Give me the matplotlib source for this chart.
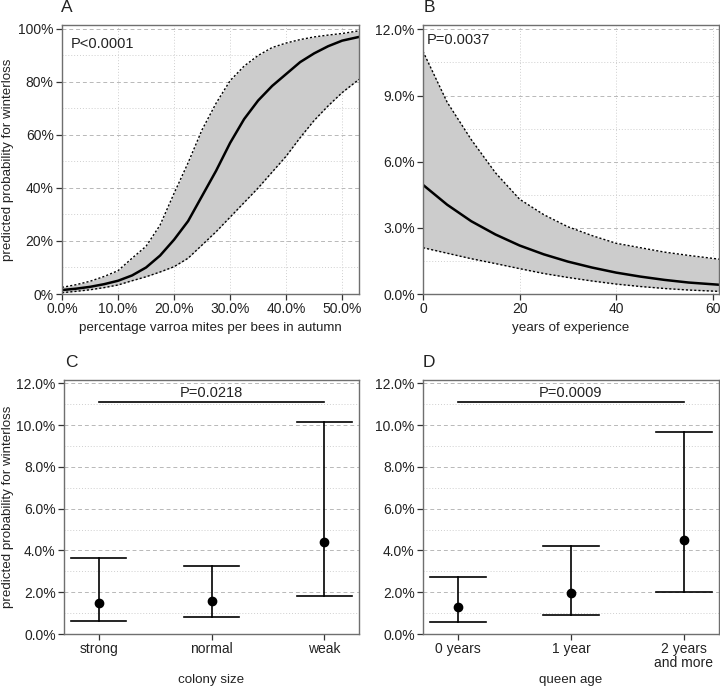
import matplotlib.pyplot as plt
from matplotlib.ticker import FuncFormatter, MultipleLocator

plt.rcParams["font.family"] = ["Liberation Sans", "DejaVu Sans"]
plt.rcParams["font.size"] = 10

# Panel A: varroa infestation (%) vs predicted probability (%)
varroa_x = [0, 2.5, 5, 7.5, 10, 12.5, 15, 17.5, 20, 22.5, 25, 27.5, 30, 32.5, 35, 37.5, 40, 42.5, 45, 47.5, 50, 53]
varroa_mean = [1.5, 2.0, 2.7, 3.7, 5.0, 7.0, 10.0, 14.5, 20.5, 27.5, 37.0, 46.5, 57.0, 66.0, 73.0, 78.5, 83.0, 87.5, 90.8, 93.5, 95.6, 97.0]
varroa_upper = [2.5, 3.5, 4.8, 6.6, 8.8, 13.5, 18.0, 26.0, 38.0, 49.5, 62.0, 72.0, 80.5, 86.0, 90.0, 93.0, 94.7, 96.0, 97.0, 97.7, 98.3, 99.3]
varroa_lower = [0.5, 1.0, 1.6, 2.4, 3.4, 5.0, 6.5, 8.3, 10.3, 13.5, 18.5, 23.5, 29.0, 34.5, 40.0, 46.0, 52.0, 59.0, 65.5, 71.0, 76.0, 81.0]

# Panel B: years of experience vs predicted probability (%)
exp_x = [0, 5, 10, 15, 20, 25, 30, 35, 40, 45, 50, 55, 61.3]
exp_mean = [4.95, 4.05, 3.3, 2.7, 2.2, 1.8, 1.47, 1.2, 0.97, 0.79, 0.64, 0.52, 0.42]
exp_upper = [11.0, 8.7, 7.0, 5.5, 4.3, 3.6, 3.05, 2.65, 2.3, 2.1, 1.9, 1.75, 1.58]
exp_lower = [2.1, 1.85, 1.6, 1.38, 1.15, 0.93, 0.75, 0.59, 0.45, 0.34, 0.25, 0.18, 0.12]

# Panel C: colony size
colony_labels = ["strong", "normal", "weak"]
colony_est = [1.5, 1.6, 4.4]
colony_lo = [0.62, 0.8, 1.84]
colony_hi = [3.65, 3.26, 10.17]

# Panel D: queen age
queen_labels = ["0 years", "1 year", "2 years\nand more"]
queen_est = [1.27, 1.95, 4.48]
queen_lo = [0.59, 0.9, 2.02]
queen_hi = [2.71, 4.21, 9.69]

W, H = 720, 688
fig = plt.figure(figsize=(W / 100, H / 100), dpi=100)
TXT = "#222222"


def add_ax(left, right, top, bottom):
    return fig.add_axes([left / W, 1 - bottom / H, (right - left) / W, (bottom - top) / H])


def style(ax, xgrid=True):
    for s in ax.spines.values():
        s.set_color("#6f6f6f")
        s.set_linewidth(1.0)
    ax.tick_params(axis="both", which="major", length=4, width=0.9, color="#333333",
                   labelcolor=TXT, labelsize=10, pad=2)
    ax.tick_params(axis="both", which="minor", length=0)
    ax.grid(True, axis="y", which="major", color="#b8b8b8", linestyle=(0, (4, 3)), linewidth=0.7)
    ax.grid(True, axis="y", which="minor", color="#cfcfcf", linestyle=(0, (1, 2)), linewidth=0.7)
    if xgrid:
        ax.grid(True, axis="x", which="major", color="#cfcfcf", linestyle=(0, (1, 2)), linewidth=0.7)
    ax.set_axisbelow(True)


band_color = "#cccccc"


def band_panel(ax, x, lo, hi, mean):
    ax.fill_between(x, lo, hi, color=band_color, linewidth=0)
    ax.plot(x, hi, color="black", linestyle=(0, (1.5, 1.5)), linewidth=1.0)
    ax.plot(x, lo, color="black", linestyle=(0, (1.5, 1.5)), linewidth=1.0)
    ax.plot(x, mean, color="black", linewidth=1.8)


# ---- A ----
axA = add_ax(62, 359, 25, 294)
band_panel(axA, varroa_x, varroa_lower, varroa_upper, varroa_mean)
axA.set_xlim(0, 53)
axA.set_ylim(0, 101.5)
axA.xaxis.set_major_locator(MultipleLocator(10))
axA.yaxis.set_major_locator(MultipleLocator(20))
axA.yaxis.set_minor_locator(MultipleLocator(10))
axA.xaxis.set_major_formatter(FuncFormatter(lambda v, p: f"{v:.1f}%"))
axA.yaxis.set_major_formatter(FuncFormatter(lambda v, p: f"{v:.0f}%"))
style(axA)
axA.set_xlabel("percentage varroa mites per bees in autumn", fontsize=9.6, color=TXT)
axA.xaxis.set_label_coords(0.5, -0.104)
axA.set_ylabel("predicted probability for winterloss", fontsize=9.6, color=TXT)
axA.yaxis.set_label_coords(-0.16, 0.5)
axA.text(0.03, 0.955, "P<0.0001", transform=axA.transAxes, ha="left", va="top", fontsize=10.5, color=TXT)

# ---- B ----
axB = add_ax(423, 719, 25, 294)
band_panel(axB, exp_x, exp_lower, exp_upper, exp_mean)
axB.set_xlim(0, 61.3)
axB.set_ylim(0, 12.2)
axB.xaxis.set_major_locator(MultipleLocator(20))
axB.yaxis.set_major_locator(MultipleLocator(3))
axB.yaxis.set_minor_locator(MultipleLocator(1.5))
axB.yaxis.set_major_formatter(FuncFormatter(lambda v, p: f"{v:.1f}%"))
style(axB)
axB.set_xlabel("years of experience", fontsize=9.6, color=TXT)
axB.xaxis.set_label_coords(0.5, -0.104)
axB.text(0.012, 0.97, "P=0.0037", transform=axB.transAxes, ha="left", va="top", fontsize=10.5, color=TXT)


def cat_panel(ax, labels, est, lo, hi, ptext, xlabel):
    pos = list(range(1, len(labels) + 1))
    for x, e, l, h in zip(pos, est, lo, hi):
        ax.plot([x, x], [l, h], color="black", linewidth=1.2)
        ax.plot([x - 0.245, x + 0.245], [l, l], color="black", linewidth=1.2)
        ax.plot([x - 0.245, x + 0.245], [h, h], color="black", linewidth=1.2)
    ax.plot(pos, est, "o", color="black", markersize=6)
    ax.plot([pos[0], pos[-1]], [11.1, 11.1], color="black", linewidth=1.2)
    ax.text(pos[1], 11.2, ptext, ha="center", va="bottom", fontsize=10.5, color=TXT)
    ax.set_xlim(0.69, 3.31)
    ax.set_ylim(0, 12.16)
    ax.set_xticks(pos)
    ax.set_xticklabels(labels, linespacing=0.95)
    ax.yaxis.set_major_locator(MultipleLocator(2))
    ax.yaxis.set_minor_locator(MultipleLocator(1))
    ax.yaxis.set_major_formatter(FuncFormatter(lambda v, p: f"{v:.1f}%"))
    style(ax, xgrid=False)
    ax.set_xlabel(xlabel, fontsize=9.6, color=TXT)
    ax.xaxis.set_label_coords(0.5, -0.157)


# ---- C ----
axC = add_ax(64, 359, 380, 634)
cat_panel(axC, colony_labels, colony_est, colony_lo, colony_hi, "P=0.0218", "colony size")
axC.set_ylabel("predicted probability for winterloss", fontsize=9.6, color=TXT)
axC.yaxis.set_label_coords(-0.168, 0.5)

# ---- D ----
axD = add_ax(423, 719, 380, 634)
cat_panel(axD, queen_labels, queen_est, queen_lo, queen_hi, "P=0.0009", "queen age")

# panel letters
for lab, x, y in [("A", 67, 8), ("B", 429, 8), ("C", 71, 362), ("D", 429, 362)]:
    fig.text(x / W, 1 - y / H, lab, ha="center", va="center", fontsize=12.5, color=TXT)

fig.savefig("out.png", dpi=100)
